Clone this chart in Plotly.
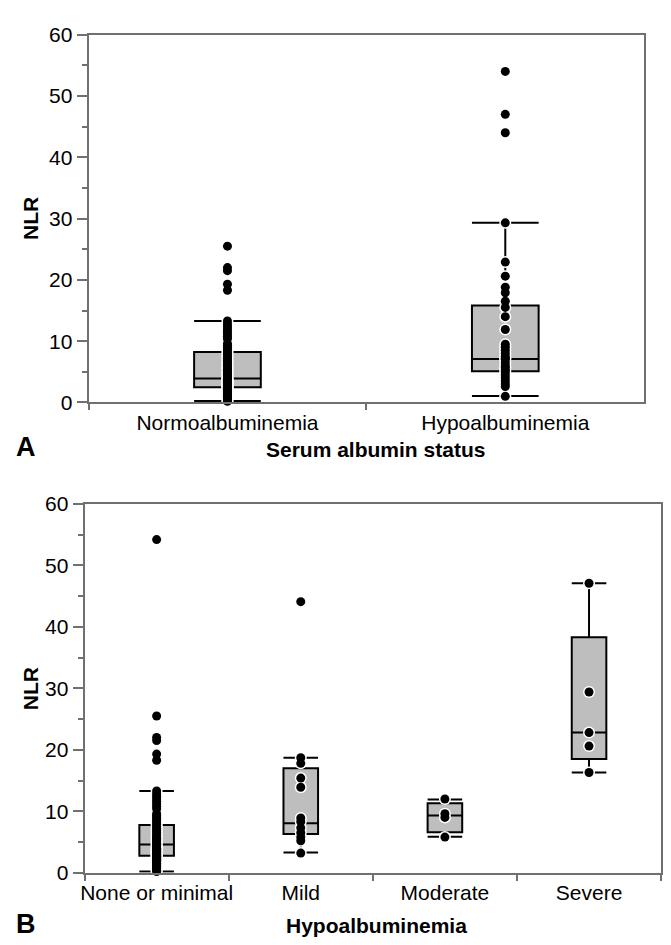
import plotly.graph_objects as go

# Panel A: serum albumin status
status_cats = ["Normoalbuminemia", "Hypoalbuminemia"]
normo_points = [0.2, 0.4, 0.6, 0.8, 1.0, 1.1, 1.3, 1.5, 1.6, 1.8, 1.9, 2.0, 2.1, 2.2,
                2.3, 2.4, 2.5, 2.6, 2.7, 2.8, 2.9, 3.0, 3.1, 3.2, 3.3, 3.4, 3.5, 3.6,
                3.7, 3.8, 3.9, 4.0, 4.2, 4.4, 4.6, 4.8, 5.0, 5.2, 5.4, 5.6, 5.8, 6.0,
                6.3, 6.6, 6.9, 7.2, 7.5, 7.8, 8.1, 8.4, 8.7, 9.0, 9.3, 9.6, 10.4,
                10.8, 11.2, 11.6, 12.0, 12.4, 12.8, 13.3, 18.3, 19.3, 21.5, 22.0, 25.5]
hypo_points = [1.0, 2.6, 3.0, 3.5, 4.0, 4.5, 5.0, 5.3, 5.7, 6.0, 6.5, 7.0, 7.2, 7.5,
               8.0, 8.5, 9.0, 9.5, 11.9, 14.0, 15.5, 16.5, 17.9, 18.8, 20.6, 22.9,
               29.3, 44.0, 47.0, 54.0]
status_lower = [0.25, 1.05]
status_q1 = [2.5, 5.1]
status_median = [3.9, 7.1]
status_q3 = [8.25, 15.8]
status_upper = [13.3, 29.3]

# Panel B: hypoalbuminemia grade
grade_cats = ["None or minimal", "Mild", "Moderate", "Severe"]
none_points = normo_points + [54.2]
mild_points = [3.2, 5.2, 5.8, 6.5, 7.3, 8.3, 8.9, 13.9, 15.4, 17.8, 18.7, 44.1]
moderate_points = [5.8, 9.0, 9.6, 12.0]
severe_points = [16.3, 20.6, 22.8, 29.4, 47.1]
grade_lower = [0.2, 3.3, 5.85, 16.3]
grade_q1 = [2.75, 6.3, 6.6, 18.5]
grade_median = [4.6, 8.05, 9.3, 22.8]
grade_q3 = [7.75, 17.0, 11.3, 38.3]
grade_upper = [13.3, 18.7, 11.9, 47.1]

FONT = "Arial, Liberation Sans, sans-serif"
FRAME = "#707070"
BOX_FILL = "#bebebe"

fig = go.Figure()


def add_boxes(cats, lower, q1, med, q3, upper, xa, ya):
    fig.add_trace(go.Box(
        x=cats, q1=q1, median=med, q3=q3, lowerfence=lower, upperfence=upper,
        boxpoints=False, width=0.24, whiskerwidth=1,
        fillcolor=BOX_FILL, line=dict(color="black", width=2),
        xaxis=xa, yaxis=ya, showlegend=False, hoverinfo="skip",
    ))


def add_points(cat, values, xa, ya):
    # white halo underneath, then solid black dots on top
    for color, size in [("white", 12), ("black", 9)]:
        fig.add_trace(go.Scatter(
            x=[cat] * len(values), y=values, mode="markers",
            marker=dict(color=color, size=size, line=dict(width=0)),
            xaxis=xa, yaxis=ya, showlegend=False, cliponaxis=False,
            hoverinfo="skip" if color == "white" else None,
        ))


add_boxes(status_cats, status_lower, status_q1, status_median, status_q3, status_upper, "x", "y")
add_points(status_cats[0], normo_points, "x", "y")
add_points(status_cats[1], hypo_points, "x", "y")

add_boxes(grade_cats, grade_lower, grade_q1, grade_median, grade_q3, grade_upper, "x2", "y2")
for cat, pts in zip(grade_cats, [none_points, mild_points, moderate_points, severe_points]):
    add_points(cat, pts, "x2", "y2")

xbase = dict(
    type="category", showline=True, linecolor=FRAME, linewidth=2, mirror=True,
    ticks="outside", tickson="boundaries", ticklen=6, tickcolor=FRAME, tickwidth=2,
    tickangle=0, showgrid=False, zeroline=False,
    tickfont=dict(family=FONT, size=21, color="black"),
)
ybase = dict(
    range=[0, 60], dtick=10, showline=True, linecolor=FRAME, linewidth=2, mirror=True,
    ticks="outside", ticklen=10, tickcolor=FRAME, tickwidth=2, showgrid=False,
    zeroline=False, tickfont=dict(family=FONT, size=21, color="black"),
    minor=dict(dtick=5, ticks="outside", ticklen=5, tickcolor=FRAME, tickwidth=2, showgrid=False),
)

fig.update_layout(
    width=671, height=945,
    margin=dict(l=0, r=0, t=0, b=0),
    paper_bgcolor="white", plot_bgcolor="white",
    xaxis=dict(xbase, domain=[77 / 671, 636 / 671], anchor="y",
               categoryorder="array", categoryarray=status_cats, range=[-0.5, 1.5]),
    yaxis=dict(ybase, domain=[1 - 392 / 945, 1 - 15 / 945], anchor="x"),
    xaxis2=dict(xbase, domain=[73 / 671, 653 / 671], anchor="y2",
                categoryorder="array", categoryarray=grade_cats, range=[-0.5, 3.5]),
    yaxis2=dict(ybase, domain=[1 - 874 / 945, 1 - 496 / 945], anchor="x2"),
)

title_font = dict(family=FONT, size=21, color="black", weight="bold")
notes = [
    ("NLR", 18 / 671, 1 - 203 / 945, -90, title_font),
    ("NLR", 18 / 671, 1 - 685 / 945, -90, title_font),
    ("Serum albumin status", 366 / 671, 1 - 440 / 945, 0, title_font),
    ("Hypoalbuminemia", 367 / 671, 1 - 928 / 945, 0, title_font),
    ("A", 14 / 671, 1 - 438 / 945, 0, dict(family=FONT, size=27, color="black", weight="bold")),
    ("B", 14 / 671, 1 - 927 / 945, 0, dict(family=FONT, size=27, color="black", weight="bold")),
]
for text, x, y, angle, font in notes:
    fig.add_annotation(text=text, x=x, y=y, xref="paper", yref="paper",
                       showarrow=False, textangle=angle, font=font,
                       xanchor="center", yanchor="middle")

fig.write_html("out.html")
